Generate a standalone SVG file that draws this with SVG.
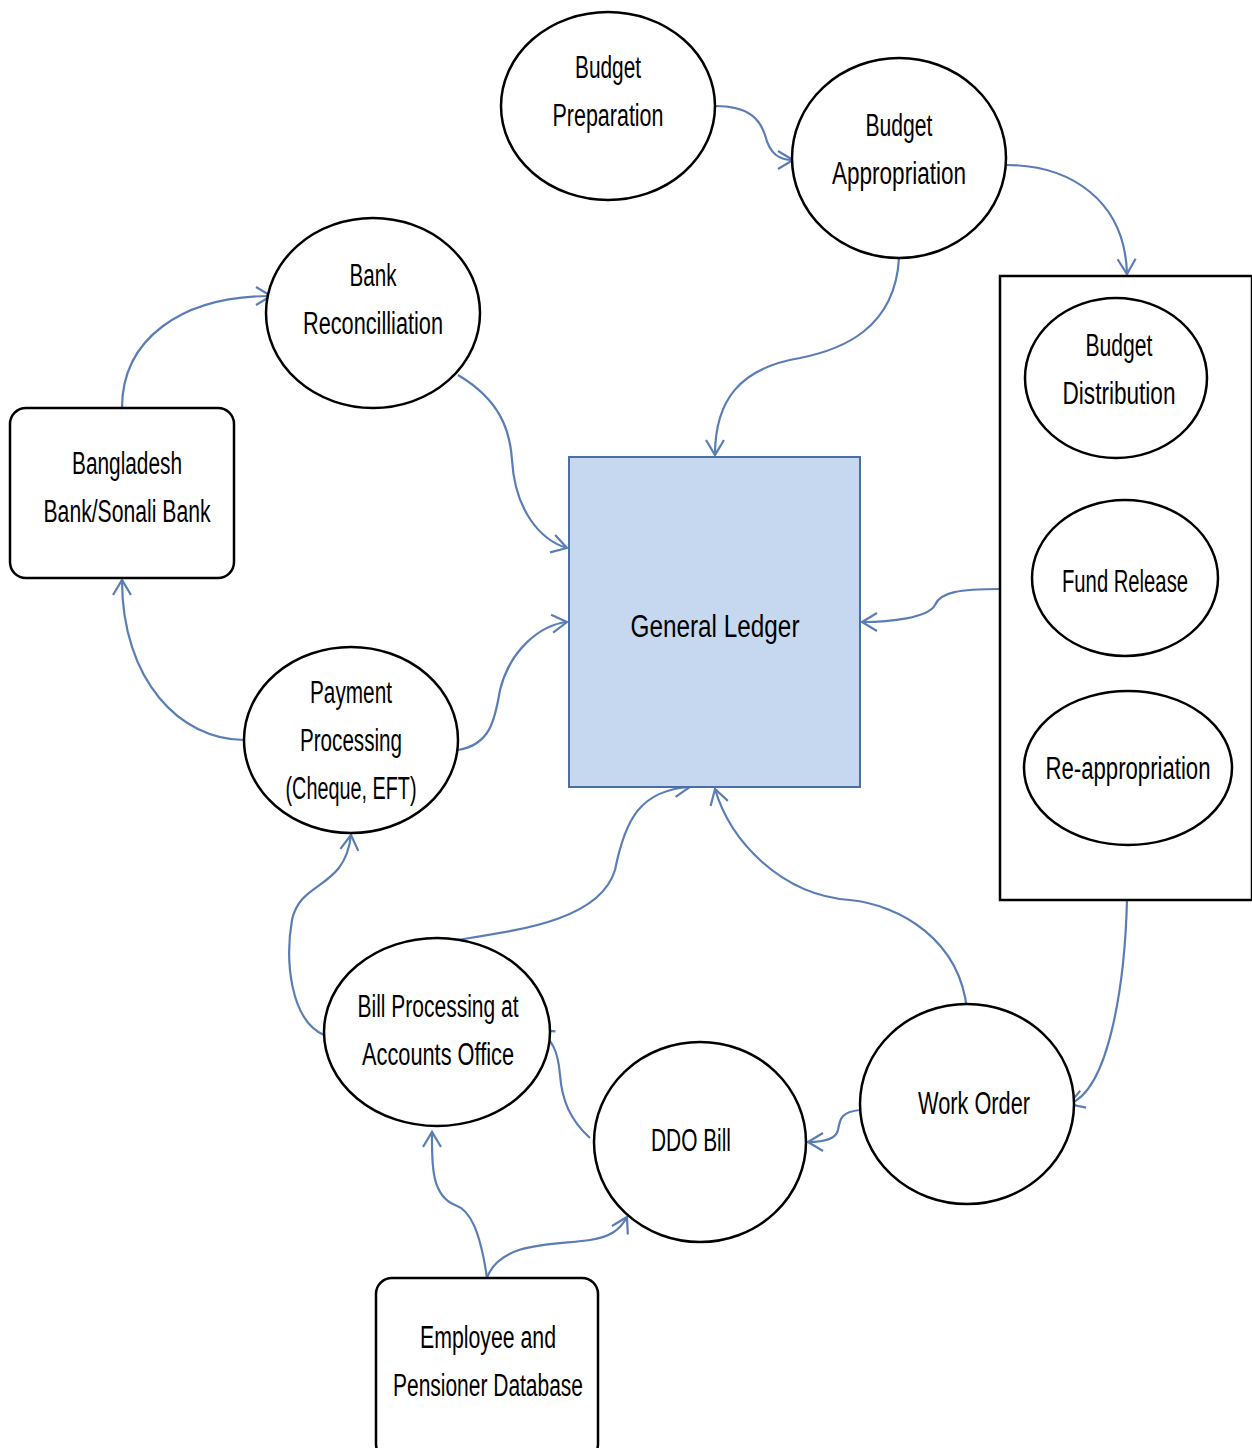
<svg xmlns="http://www.w3.org/2000/svg" width="1252" height="1448" viewBox="0 0 1252 1448">
<style>
.n{fill:#fff;stroke:#000;stroke-width:2.5}
.t{font-family:"Liberation Sans",Arial,sans-serif;font-size:31px;fill:#000;text-anchor:middle}
.c{fill:none;stroke:#5a7db5;stroke-width:2.2;marker-end:url(#a)}
</style>
<defs>
<marker id="a" markerUnits="userSpaceOnUse" markerWidth="24" markerHeight="24" refX="17" refY="11" orient="auto">
<path d="M2,2 L17,11 L2,20" fill="none" stroke="#5a7db5" stroke-width="2.2"/>
</marker>
</defs>
<rect width="1252" height="1448" fill="#fff"/>
<g id="connectors">
<path class="c" d="M715,106 C750,106 760,120 765,135 C770,155 780,160 793,160"/>
<path class="c" d="M1006,165 C1070,165 1125,200 1127,274"/>
<path class="c" d="M899,258 C895,330 840,350 800,358 C740,368 715,400 715,455"/>
<path class="c" d="M458,375 C500,400 510,430 512,460 C515,510 540,540 567,548"/>
<path class="c" d="M1000,589 C960,589 940,592 935,605 C928,618 890,622 862,622"/>
<path class="c" d="M458,750 C490,745 495,720 500,690 C510,650 540,625 567,622"/>
<path class="c" d="M122,408 C122,340 180,296 271,296"/>
<path class="c" d="M244,740 C180,740 122,680 122,580"/>
<path class="c" d="M324,1035 C290,1020 285,960 292,920 C300,880 345,890 351,835"/>
<path class="c" d="M457,940 C520,930 600,920 615,870 C625,820 640,790 690,787"/>
<path class="c" d="M967,1010 C960,940 900,905 850,900 C780,895 730,840 715,789"/>
<path class="c" d="M1127,900 C1125,980 1110,1090 1069,1104"/>
<path class="c" d="M860,1110 C840,1112 840,1120 838,1130 C836,1140 820,1142 808,1142"/>
<path class="c" d="M590,1138 C570,1120 562,1100 560,1075 C558,1050 552,1040 538,1030"/>
<path class="c" d="M487,1278 C480,1230 470,1210 455,1205 C430,1195 432,1160 432,1132"/>
<path class="c" d="M487,1278 C500,1240 560,1245 590,1240 C610,1237 620,1230 627,1217"/>
</g>
<g id="gl">
<rect x="569" y="457" width="291" height="330" fill="#c6d8ef" stroke="#4a6fa5" stroke-width="2"/>
<text class="t" x="715" y="637" font-size="36" textLength="169" lengthAdjust="spacingAndGlyphs">General Ledger</text>
</g>
<g id="budget-preparation">
<ellipse class="n" cx="608" cy="106" rx="107" ry="94"/>
<text class="t" x="608" y="78" textLength="66" lengthAdjust="spacingAndGlyphs">Budget</text>
<text class="t" x="608" y="126" textLength="111" lengthAdjust="spacingAndGlyphs">Preparation</text>
</g>
<g id="budget-appropriation">
<ellipse class="n" cx="899" cy="158" rx="107" ry="100"/>
<text class="t" x="899" y="136" textLength="67" lengthAdjust="spacingAndGlyphs">Budget</text>
<text class="t" x="899" y="184" textLength="134" lengthAdjust="spacingAndGlyphs">Appropriation</text>
</g>
<g id="bank-reconcilliation">
<ellipse class="n" cx="373" cy="313" rx="107" ry="95"/>
<text class="t" x="373" y="286" textLength="47" lengthAdjust="spacingAndGlyphs">Bank</text>
<text class="t" x="373" y="334" textLength="140" lengthAdjust="spacingAndGlyphs">Reconcilliation</text>
</g>
<g id="bangladesh-bank">
<rect class="n" x="10" y="408" width="224" height="170" rx="16"/>
<text class="t" x="127" y="474" textLength="110" lengthAdjust="spacingAndGlyphs">Bangladesh</text>
<text class="t" x="127" y="522" textLength="167" lengthAdjust="spacingAndGlyphs">Bank/Sonali Bank</text>
</g>
<g id="budget-group">
<rect x="1000" y="276" width="252" height="624" fill="#fff" stroke="#000" stroke-width="2.5"/>
</g>
<g id="budget-distribution">
<ellipse class="n" cx="1116" cy="378" rx="91" ry="80"/>
<text class="t" x="1119" y="356" textLength="67" lengthAdjust="spacingAndGlyphs">Budget</text>
<text class="t" x="1119" y="404" textLength="113" lengthAdjust="spacingAndGlyphs">Distribution</text>
</g>
<g id="fund-release">
<ellipse class="n" cx="1125" cy="578" rx="93" ry="78"/>
<text class="t" transform="translate(1125,592) scale(0.75,1)" x="0" y="0" textLength="168" lengthAdjust="spacingAndGlyphs">Fund Release</text>
</g>
<g id="re-appropriation">
<ellipse class="n" cx="1128" cy="768" rx="104" ry="77"/>
<text class="t" transform="translate(1128,779) scale(0.75,1)" x="0" y="0" textLength="220" lengthAdjust="spacingAndGlyphs">Re-appropriation</text>
</g>
<g id="payment-processing">
<ellipse class="n" cx="351" cy="740" rx="107" ry="93"/>
<text class="t" x="351" y="703" textLength="82" lengthAdjust="spacingAndGlyphs">Payment</text>
<text class="t" x="351" y="751" textLength="102" lengthAdjust="spacingAndGlyphs">Processing</text>
<text class="t" x="351" y="799" textLength="131" lengthAdjust="spacingAndGlyphs">(Cheque, EFT)</text>
</g>
<g id="bill-processing">
<ellipse class="n" cx="437" cy="1032" rx="113" ry="94"/>
<text class="t" x="438" y="1017" textLength="161" lengthAdjust="spacingAndGlyphs">Bill Processing at</text>
<text class="t" x="438" y="1065" textLength="152" lengthAdjust="spacingAndGlyphs">Accounts Office</text>
</g>
<g id="ddo-bill">
<ellipse class="n" cx="700" cy="1142" rx="106" ry="100"/>
<text class="t" x="691" y="1151" textLength="80" lengthAdjust="spacingAndGlyphs">DDO Bill</text>
</g>
<g id="work-order">
<ellipse class="n" cx="967" cy="1104" rx="107" ry="100"/>
<text class="t" x="974" y="1114" textLength="112" lengthAdjust="spacingAndGlyphs">Work Order</text>
</g>
<g id="employee-db">
<rect class="n" x="376" y="1278" width="222" height="182" rx="16"/>
<text class="t" x="488" y="1348" textLength="136" lengthAdjust="spacingAndGlyphs">Employee and</text>
<text class="t" x="488" y="1396" textLength="190" lengthAdjust="spacingAndGlyphs">Pensioner Database</text>
</g>
</svg>
